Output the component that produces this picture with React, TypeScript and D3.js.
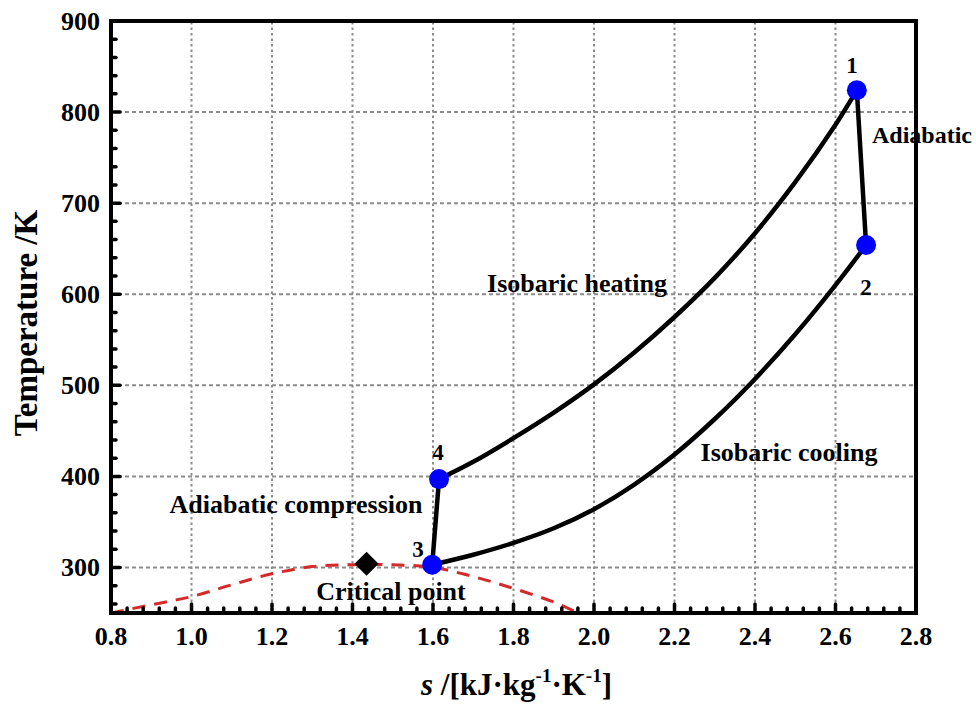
import * as d3 from 'd3';

// Cycle state points (s in kJ/kg/K, T in K)
const stateLabels = ['1', '2', '3', '4'];
const stateS = [2.653, 2.676, 1.598, 1.615];
const stateT = [824, 654, 303, 397];

// Isobaric heating 4 -> 1
const heatS = [1.615, 1.7, 1.8, 1.9, 2.0, 2.1, 2.2, 2.3, 2.4, 2.5, 2.6, 2.653];
const heatT = [397, 416, 442, 470, 501, 536, 575, 618, 667, 723, 786, 824];

// Isobaric cooling 3 -> 2
const coolS = [1.598, 1.7, 1.8, 1.9, 2.0, 2.1, 2.2, 2.3, 2.4, 2.5, 2.6, 2.676];
const coolT = [303, 314, 327, 343, 364, 391, 424, 463, 507, 556, 610, 654];

// Saturation dome
const domeS = [0.8, 0.9, 1.0, 1.1, 1.2, 1.3, 1.4, 1.5, 1.6, 1.7, 1.8, 1.9, 1.96];
const domeT = [250, 259, 268, 281, 293, 301, 303, 303, 300, 290, 277, 262, 250];

const criticalS = 1.435;
const criticalT = 304;

const xTicks = [0.8, 1.0, 1.2, 1.4, 1.6, 1.8, 2.0, 2.2, 2.4, 2.6, 2.8];
const yTicks = [300, 400, 500, 600, 700, 800, 900];

const W = 976;
const H = 704;
const margin = { top: 21, right: 60, bottom: 91, left: 111 };
const font = '"Liberation Serif", "Times New Roman", serif';

export default function App() {
  const x = d3.scaleLinear().domain([0.8, 2.8]).range([margin.left, W - margin.right]);
  const y = d3.scaleLinear().domain([250, 900]).range([H - margin.bottom, margin.top]);

  const line = d3
    .line<[number, number]>()
    .x((d) => x(d[0]))
    .y((d) => y(d[1]))
    .curve(d3.curveCatmullRom.alpha(0.5));
  const straight = d3
    .line<[number, number]>()
    .x((d) => x(d[0]))
    .y((d) => y(d[1]));

  const heat = heatS.map((s, i) => [s, heatT[i]] as [number, number]);
  const cool = coolS.map((s, i) => [s, coolT[i]] as [number, number]);
  const dome = domeS.map((s, i) => [s, domeT[i]] as [number, number]);

  const minorX = d3.range(0.8, 2.8001, 0.04).filter((v) => !xTicks.some((t) => Math.abs(t - v) < 1e-6));
  const minorY = d3.range(260, 900, 20).filter((v) => v % 100 !== 0);

  const x0 = x(0.8);
  const x1 = x(2.8);
  const y0 = y(250);
  const y1 = y(900);

  const c = x(criticalS);
  const d = y(criticalT);
  const r = 12;

  return (
    <svg
      width={W}
      height={H}
      style={{ position: 'absolute', left: 0, top: 0, background: '#fff' }}
      fontFamily={font}
      fontWeight="bold"
    >
      <defs>
        <clipPath id="plot">
          <rect x={x0} y={y1} width={x1 - x0} height={y0 - y1} />
        </clipPath>
      </defs>

      {/* grid */}
      {xTicks.slice(1, -1).map((t) => (
        <line key={'gx' + t} x1={x(t)} x2={x(t)} y1={y0} y2={y1} stroke="#8c8c8c" strokeWidth={2} strokeDasharray="2.5,3" />
      ))}
      {yTicks.slice(0, -1).map((t) => (
        <line key={'gy' + t} x1={x0} x2={x1} y1={y(t)} y2={y(t)} stroke="#8c8c8c" strokeWidth={2} strokeDasharray="4,3" />
      ))}

      {/* saturation dome */}
      <path
        d={line(dome) || ''}
        fill="none"
        stroke="#d42a2a"
        strokeWidth={3}
        strokeDasharray="13,9"
        clipPath="url(#plot)"
      />

      {/* cycle */}
      <g fill="none" stroke="#000" strokeWidth={4.5} strokeLinecap="round">
        <path d={line(heat) || ''} />
        <path d={line(cool) || ''} />
        <path d={straight([[stateS[0], stateT[0]], [stateS[1], stateT[1]]]) || ''} />
        <path d={straight([[stateS[2], stateT[2]], [stateS[3], stateT[3]]]) || ''} />
      </g>

      {/* critical point */}
      <path d={`M${c},${d - r}L${c + r},${d}L${c},${d + r}L${c - r},${d}Z`} fill="#000" />

      {/* state points */}
      {stateS.map((s, i) => (
        <circle key={'p' + i} cx={x(s)} cy={y(stateT[i])} r={10} fill="#0000ff" />
      ))}

      {/* frame */}
      <rect x={x0} y={y1} width={x1 - x0} height={y0 - y1} fill="none" stroke="#000" strokeWidth={4} />

      {/* ticks */}
      <g stroke="#000" strokeWidth={3.5} strokeLinecap="round">
        {xTicks.map((t) => (
          <line key={'tx' + t} x1={x(t)} x2={x(t)} y1={y0} y2={y0 - 9} />
        ))}
        {minorX.map((t) => (
          <line key={'mx' + t} x1={x(t)} x2={x(t)} y1={y0} y2={y0 - 5} />
        ))}
        {yTicks.map((t) => (
          <line key={'ty' + t} x1={x0} x2={x0 + 9} y1={y(t)} y2={y(t)} />
        ))}
        {minorY.map((t) => (
          <line key={'my' + t} x1={x0} x2={x0 + 5} y1={y(t)} y2={y(t)} />
        ))}
      </g>

      {/* tick labels */}
      <g fontSize={26} fill="#000">
        {xTicks.map((t) => (
          <text key={'lx' + t} x={x(t)} y={y0 + 32} textAnchor="middle">
            {t.toFixed(1)}
          </text>
        ))}
        {yTicks.map((t) => (
          <text key={'ly' + t} x={x0 - 11} y={y(t) + 9} textAnchor="end">
            {t}
          </text>
        ))}
      </g>

      {/* axis titles */}
      <text
        transform={`translate(37,${(y0 + y1) / 2 + 6}) rotate(-90)`}
        textAnchor="middle"
        fontSize={33}
      >
        Temperature /K
      </text>
      <text x={(x0 + x1) / 2 + 3} y={H - 9} textAnchor="middle" fontSize={31}>
        <tspan fontStyle="italic">s</tspan>
        <tspan> /[kJ·kg</tspan>
        <tspan fontSize={19} dy={-13}>-1</tspan>
        <tspan dy={13}>·K</tspan>
        <tspan fontSize={19} dy={-13}>-1</tspan>
        <tspan dy={13}>]</tspan>
      </text>

      {/* annotations */}
      <g fontSize={26} fill="#000">
        <text x={852} y={73} textAnchor="middle" fontSize={23}>{stateLabels[0]}</text>
        <text x={866} y={295} textAnchor="middle" fontSize={23}>{stateLabels[1]}</text>
        <text x={418} y={557} textAnchor="middle" fontSize={23}>{stateLabels[2]}</text>
        <text x={438} y={460} textAnchor="middle" fontSize={23}>{stateLabels[3]}</text>
        <text x={872} y={143} fontSize={24}>Adiabatic</text>
        <text x={577} y={292} textAnchor="middle">Isobaric heating</text>
        <text x={789} y={461} textAnchor="middle">Isobaric cooling</text>
        <text x={296} y={513} textAnchor="middle">Adiabatic compression</text>
        <text x={391} y={600} textAnchor="middle">Critical point</text>
      </g>
    </svg>
  );
}
